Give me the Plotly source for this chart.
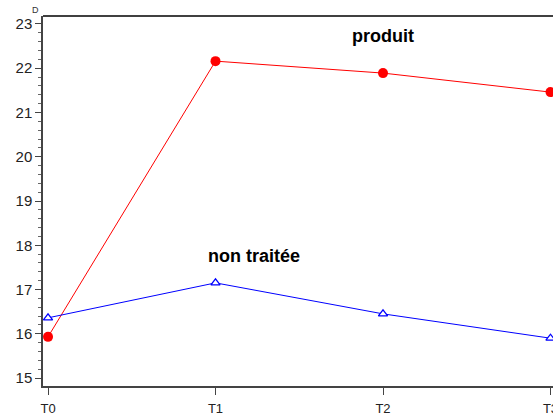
import plotly.graph_objects as go

times = ["T0", "T1", "T2", "T3"]
produit = [15.93, 22.16, 21.89, 21.46]
non_traitee = [16.36, 17.15, 16.45, 15.90]
y_ticks = [15, 16, 17, 18, 19, 20, 21, 22, 23]

xi = list(range(len(times)))

fig = go.Figure()
fig.add_trace(go.Scatter(
    x=xi, y=produit, mode="lines+markers", name="produit",
    line=dict(color="#ff0000", width=1),
    marker=dict(color="#ff0000", size=10, symbol="circle"),
    cliponaxis=False,
))
fig.add_trace(go.Scatter(
    x=xi, y=non_traitee, mode="lines+markers", name="non traitée",
    line=dict(color="#0000ff", width=1),
    marker=dict(color="white", size=8, symbol="triangle-up",
                line=dict(color="#0000ff", width=1.3)),
    cliponaxis=False,
))

fig.add_annotation(x=2.0, y=22.72, text="<b>produit</b>", showarrow=False,
                   font=dict(size=18, color="black", family="Liberation Sans, Arial"))
fig.add_annotation(x=1.23, y=17.75, text="<b>non traitée</b>", showarrow=False,
                   font=dict(size=18, color="black", family="Liberation Sans, Arial"))
fig.add_annotation(x=-0.026, xref="paper", y=1.016, yref="paper", yanchor="middle",
                   text="D", showarrow=False,
                   font=dict(size=9, color="#333333", family="Liberation Sans, Arial"))

fig.add_shape(type="line", xref="paper", yref="paper", x0=0, x1=1, y0=1, y1=1,
              line=dict(color="black", width=1.5))

fig.update_layout(
    width=553, height=415,
    margin=dict(l=43, r=0, t=16, b=29, autoexpand=False),
    paper_bgcolor="white", plot_bgcolor="white",
    showlegend=False,
    font=dict(family="Liberation Sans, Arial", size=14, color="#222222"),
    xaxis=dict(
        range=[-0.03, 3.015], tickmode="array", tickvals=xi, ticktext=times,
        showgrid=False, zeroline=False, showline=True, linecolor="#444444", linewidth=1.5,
        ticks="outside", ticklen=7, tickcolor="#444444", tickwidth=1.2,
        tickfont=dict(size=13, color="#222222"), ticklabelstandoff=3, automargin=False,
        ticklabeloverflow="allow",
    ),
    yaxis=dict(
        range=[14.82, 23.18], tickmode="array", tickvals=y_ticks,
        showgrid=False, zeroline=False, showline=True, linecolor="#444444", linewidth=1.5,
        ticks="outside", ticklen=6, tickcolor="#444444", tickwidth=1.2,
        tickfont=dict(size=15, color="#222222"), automargin=False,
        minor=dict(dtick=0.2, ticks="outside", ticklen=3, tickcolor="#666666", showgrid=False),
    ),
)

fig.write_html(
    "out.html",
    config={"displayModeBar": False},
    post_script="document.body.style.margin='0';document.body.style.overflow='hidden';",
)
